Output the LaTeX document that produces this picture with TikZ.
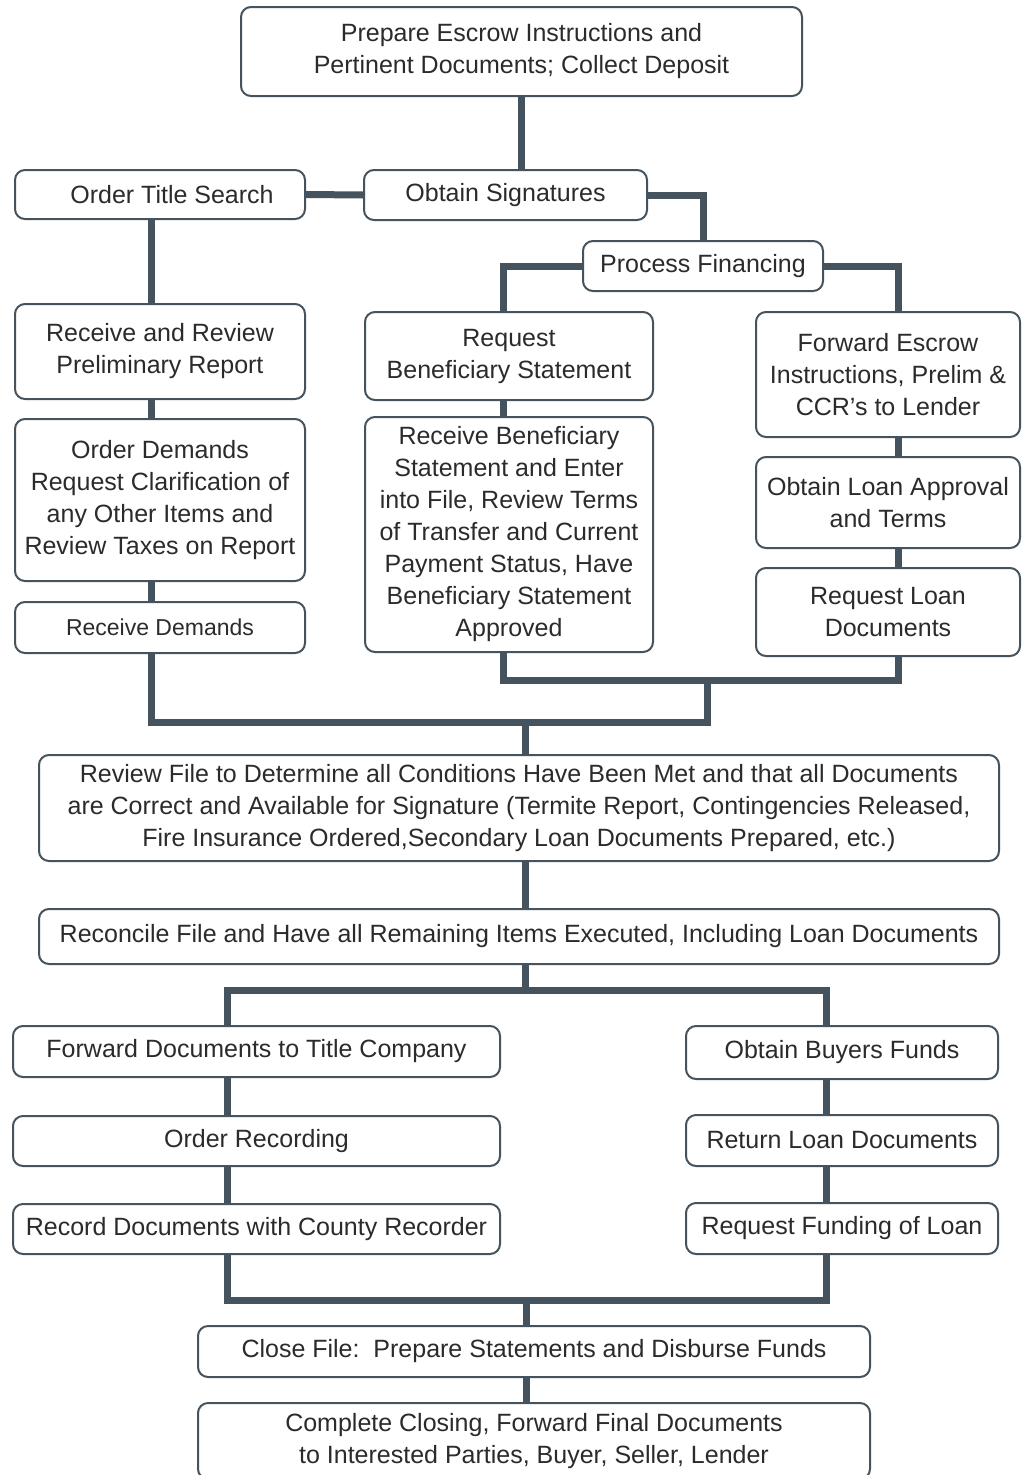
\documentclass[tikz,border=0pt]{standalone}
\usepackage{fontspec}
\setmainfont{Liberation Sans}
\definecolor{slate}{HTML}{44535D}
\definecolor{ink}{HTML}{2B2B2B}
\tikzset{
  box/.style={draw=slate, line width=2pt, rounded corners=10pt, fill=white, text=ink,
    align=center, inner sep=0pt, font=\fontsize{25}{32}\selectfont},
  link/.style={draw=slate, line width=7pt},
}
\begin{document}
\begin{tikzpicture}[x=1pt,y=-1pt]
    \useasboundingbox (0,0) rectangle (1029,1475);
    % top
    \node[box, minimum width=561pt, minimum height=89pt] (prep) at (521.5,51.5) {Prepare Escrow Instructions and\\Pertinent Documents; Collect Deposit};
    \node[box, minimum width=290pt, minimum height=49pt] (title) at (160,194.5) {\hspace*{24pt}Order Title Search};
    \node[box, minimum width=283pt, minimum height=50pt] (sign) at (505.5,195) {Obtain Signatures};
    \node[box, minimum width=240pt, minimum height=50pt] (fin) at (703,266) {Process Financing};
    % left column
    \node[box, minimum width=290pt, minimum height=95pt] (prelim) at (160,351.5) {Receive and Review\\Preliminary Report};
    \node[box, minimum width=290pt, minimum height=162pt] (demands) at (160,500) {Order Demands\\Request Clarification of\\any Other Items and\\Review Taxes on Report};
    \node[box, minimum width=290pt, minimum height=51pt, font=\fontsize{23}{32}\selectfont] (recdem) at (160,627.5) {Receive Demands};
    % middle column
    \node[box, minimum width=288pt, minimum height=88pt] (reqben) at (509,356) {Request\\Beneficiary Statement};
    \node[box, minimum width=288pt, minimum height=235pt] (recben) at (509,534.5) {Receive Beneficiary\\Statement and Enter\\into File, Review Terms\\of Transfer and Current\\Payment Status, Have\\Beneficiary Statement\\Approved};
    % right column
    \node[box, minimum width=264pt, minimum height=125pt] (fwd) at (888,374.5) {Forward Escrow\\Instructions, Prelim \&\\CCR’s to Lender};
    \node[box, minimum width=264pt, minimum height=91pt] (approval) at (888,502.5) {Obtain Loan Approval\\and Terms};
    \node[box, minimum width=264pt, minimum height=88pt] (reqloan) at (888,612) {Request Loan\\Documents};
    % review
    \node[box, minimum width=960pt, minimum height=106pt] (review) at (519,808) {Review File to Determine all Conditions Have Been Met and that all Documents\\are Correct and Available for Signature (Termite Report, Contingencies Released,\\Fire Insurance Ordered,Secondary Loan Documents Prepared, etc.)};
    \node[box, minimum width=960pt, minimum height=55pt] (reconcile) at (519,936.5) {Reconcile File and Have all Remaining Items Executed, Including Loan Documents};
    % title side
    \node[box, minimum width=487pt, minimum height=51pt] (fwdtitle) at (256.5,1051.5) {Forward Documents to Title Company};
    \node[box, minimum width=487pt, minimum height=50pt] (orderrec) at (256.5,1141) {Order Recording};
    \node[box, minimum width=487pt, minimum height=50pt] (record) at (256.5,1229) {Record Documents with County Recorder};
    % lender side
    \node[box, minimum width=312pt, minimum height=53pt] (buyers) at (842,1052.5) {Obtain Buyers Funds};
    \node[box, minimum width=312pt, minimum height=51pt] (return) at (842,1140.5) {Return Loan Documents};
    \node[box, minimum width=312pt, minimum height=51pt] (funding) at (842,1228.5) {Request Funding of Loan};
    % closing
    \node[box, minimum width=672pt, minimum height=51pt] (close) at (534,1351.5) {Close File:\ \ Prepare Statements and Disburse Funds};
    \node[box, minimum width=672pt, minimum height=76pt] (complete) at (534,1441) {Complete Closing, Forward Final Documents\\to Interested Parties, Buyer, Seller, Lender};

    % columns and junctions
    \coordinate (colA) at (151,0);
    \coordinate (colB) at (503,0);
    \coordinate (colC) at (898,0);
    \coordinate (colD) at (227,0);
    \coordinate (colE) at (826,0);
    \coordinate (jup) at (707,680);
    \coordinate (jlow) at (525,722);
    \coordinate (jmid) at (525,990);
    \coordinate (jbot) at (526,1300);

    \draw[link] (prep.south) -- (prep.south |- sign.north);
    \draw[link] (title.east) -- (sign.west);
    \draw[link] (sign.east) -| (fin.north);
    \draw[link] (fin.west) -| (reqben.north -| colB);
    \draw[link] (fin.east) -| (fwd.north -| colC);
    \draw[link] (title.south -| colA) -- (prelim.north -| colA);
    \draw[link] (prelim.south -| colA) -- (demands.north -| colA);
    \draw[link] (demands.south -| colA) -- (recdem.north -| colA);
    \draw[link] (reqben.south -| colB) -- (recben.north -| colB);
    \draw[link] (fwd.south -| colC) -- (approval.north -| colC);
    \draw[link] (approval.south -| colC) -- (reqloan.north -| colC);
    \draw[link] (recdem.south -| colA) |- (jlow -| jup) -- (jup);
    \draw[link] (recben.south -| colB) |- (jup) -| (reqloan.south -| colC);
    \draw[link] (jlow) -- (review.north -| jlow);
    \draw[link] (review.south -| jlow) -- (reconcile.north -| jlow);
    \draw[link] (reconcile.south -| jmid) -- (jmid);
    \draw[link] (fwdtitle.north -| colD) |- (jmid) -| (buyers.north -| colE);
    \draw[link] (fwdtitle.south -| colD) -- (orderrec.north -| colD);
    \draw[link] (orderrec.south -| colD) -- (record.north -| colD);
    \draw[link] (buyers.south -| colE) -- (return.north -| colE);
    \draw[link] (return.south -| colE) -- (funding.north -| colE);
    \draw[link] (record.south -| colD) |- (jbot) -| (funding.south -| colE);
    \draw[link] (jbot) -- (close.north -| jbot);
    \draw[link] (close.south -| jbot) -- (complete.north -| jbot);
\end{tikzpicture}
\end{document}
